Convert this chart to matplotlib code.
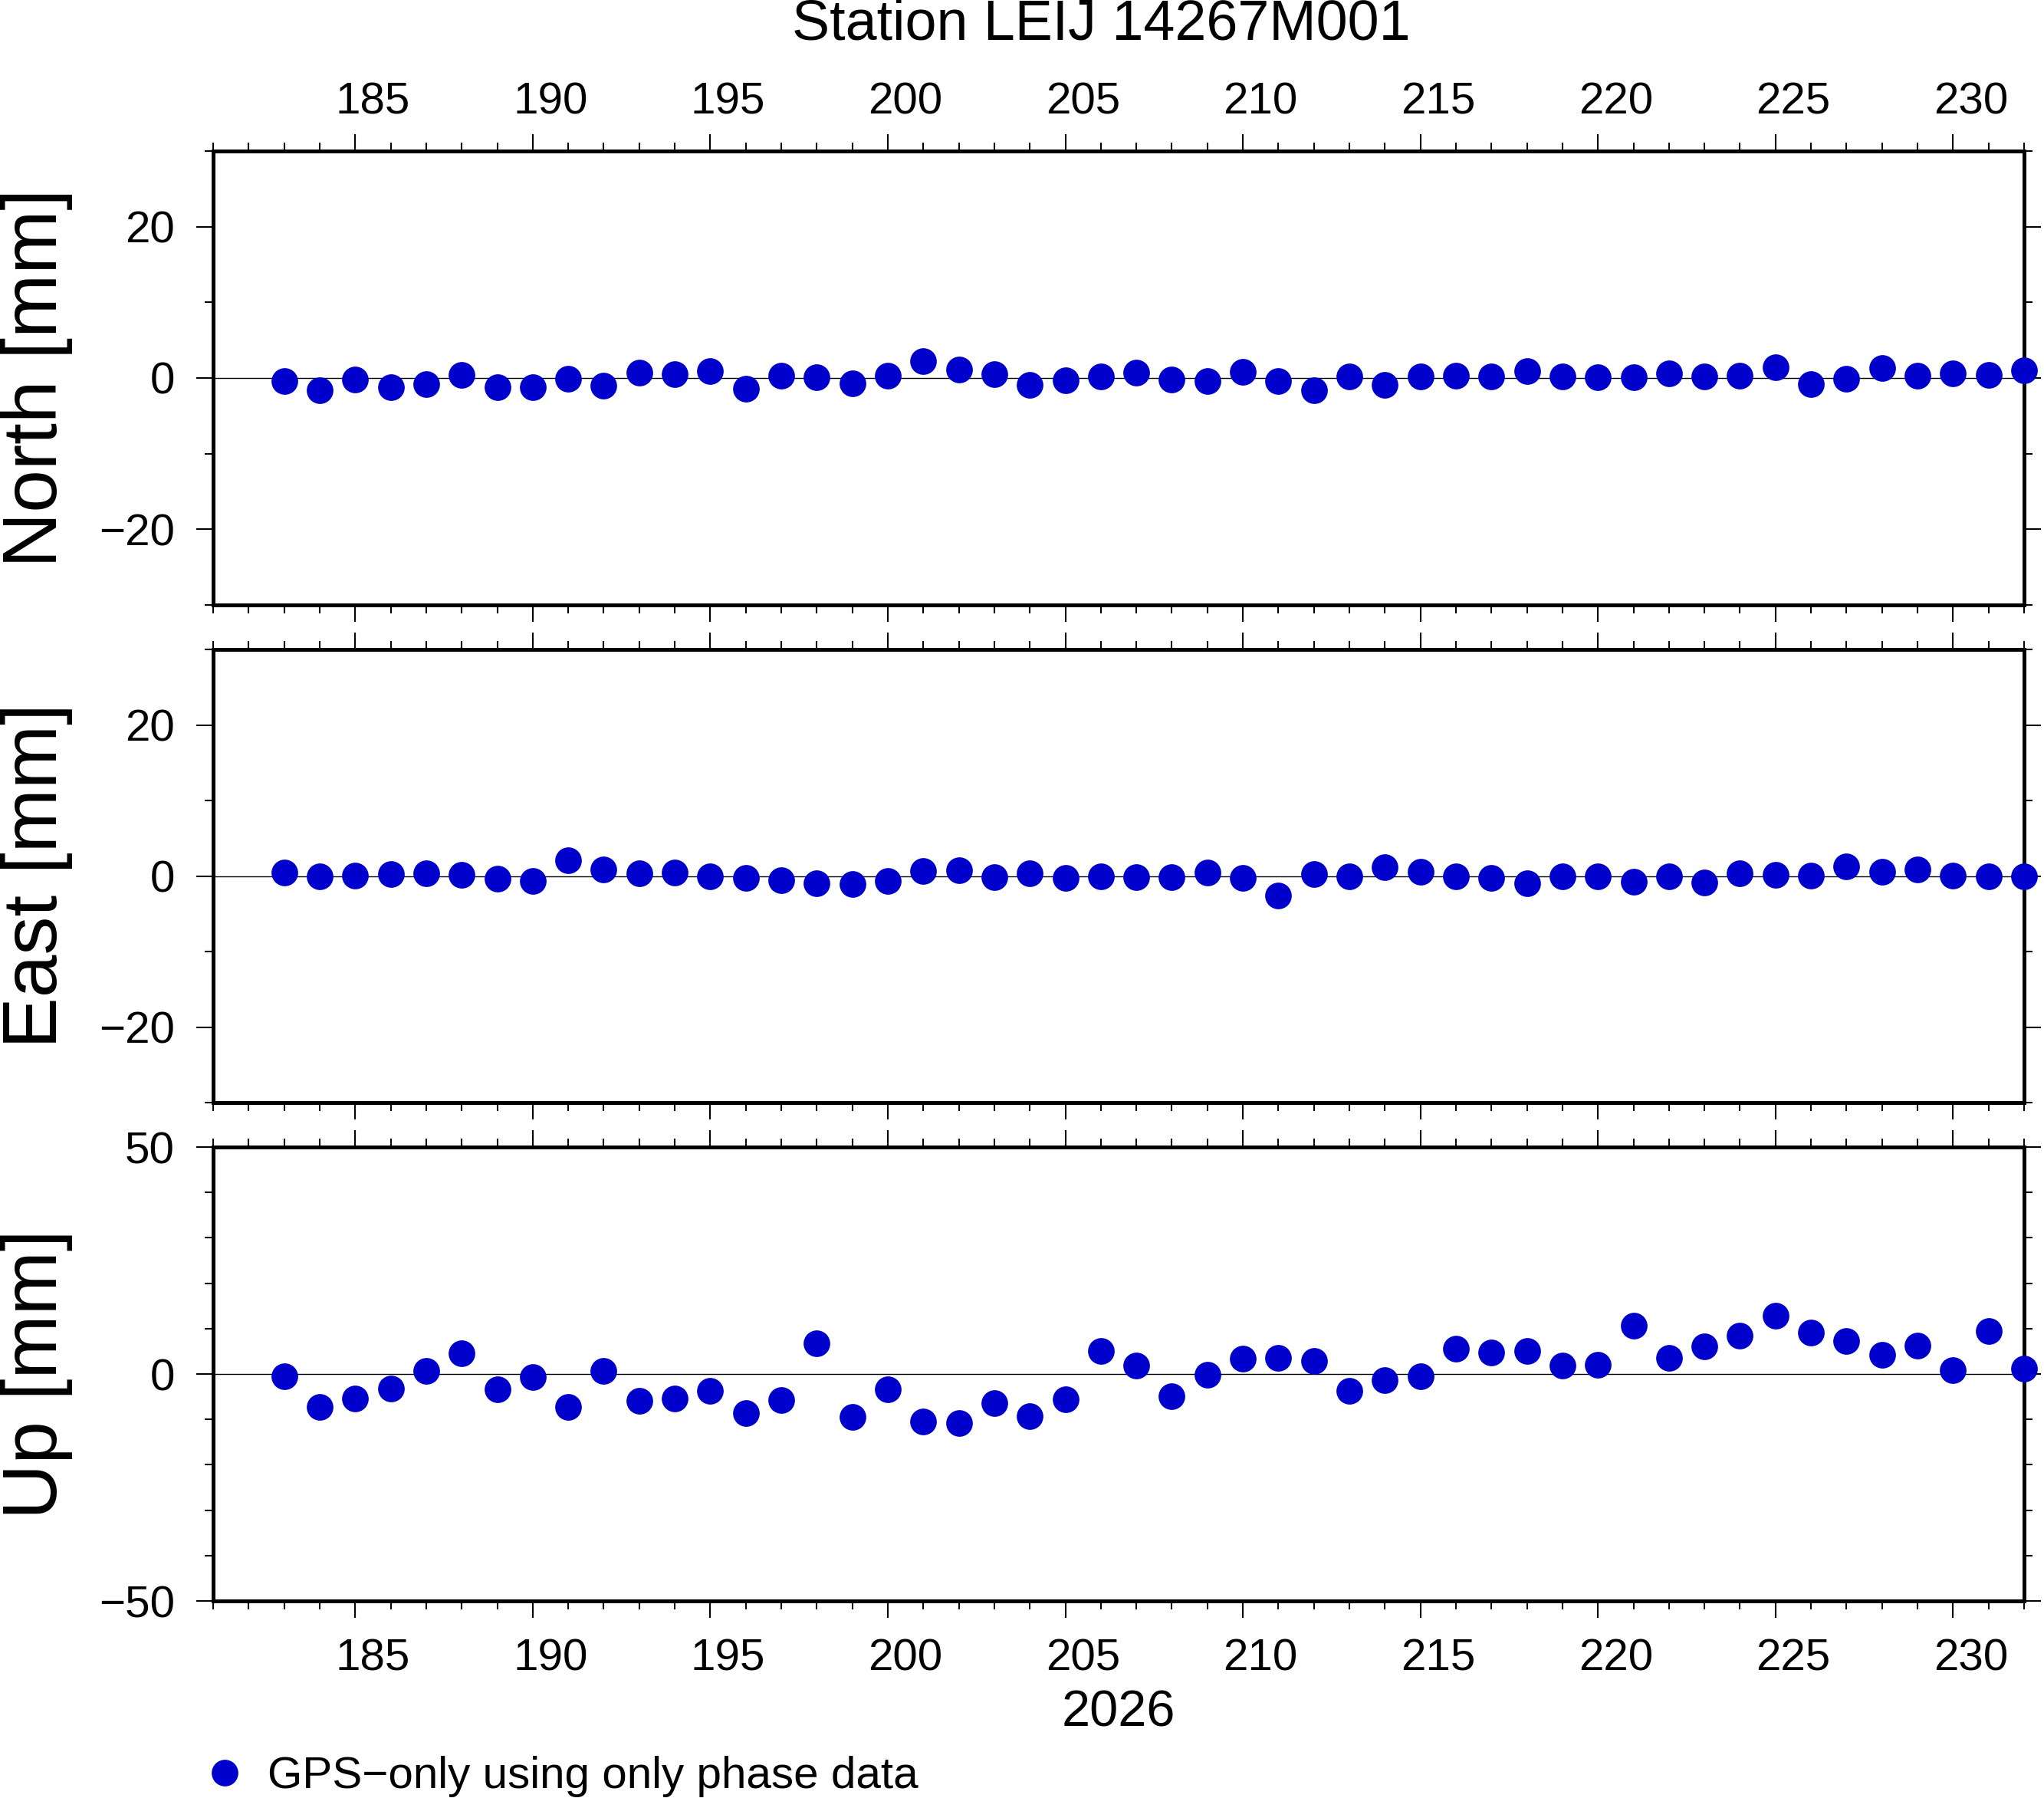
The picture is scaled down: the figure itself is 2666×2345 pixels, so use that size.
import numpy as np
import matplotlib
matplotlib.use("Agg")
import matplotlib.pyplot as plt
from matplotlib.ticker import MultipleLocator
from matplotlib.transforms import ScaledTranslation

plt.rcParams['font.family'] = ['Liberation Sans', 'DejaVu Sans']

# day of year 2026
days = np.arange(183, 233)

north = [-0.4, -1.6, -0.2, -1.2, -0.8, 0.4, -1.2, -1.2, -0.1, -1.0,
         0.7, 0.5, 0.9, -1.4, 0.3, 0.1, -0.7, 0.3, 2.2, 1.1,
         0.5, -0.9, -0.3, 0.2, 0.7, -0.2, -0.4, 0.8, -0.4, -1.6,
         0.2, -0.9, 0.2, 0.3, 0.2, 0.9, 0.2, 0.1, 0.1, 0.6,
         0.2, 0.3, 1.4, -0.8, -0.1, 1.3, 0.3, 0.6, 0.4, 1.0]

east = [0.5, -0.1, 0.1, 0.3, 0.4, 0.2, -0.4, -0.7, 2.1, 0.9,
        0.4, 0.5, 0.0, -0.3, -0.6, -1.0, -1.1, -0.7, 0.7, 0.8,
        -0.2, 0.4, -0.3, 0.0, -0.2, -0.2, 0.5, -0.3, -2.6, 0.3,
        0.0, 1.2, 0.6, -0.1, -0.3, -1.0, 0.0, -0.1, -0.8, 0.0,
        -0.9, 0.4, 0.2, 0.1, 1.3, 0.6, 0.9, 0.1, 0.0, -0.1]

up = [-0.5, -7.2, -5.4, -3.2, 0.6, 4.5, -3.4, -0.6, -7.2, 0.7,
      -5.9, -5.4, -3.7, -8.6, -5.7, 6.8, -9.4, -3.3, -10.5, -10.8,
      -6.4, -9.3, -5.5, 5.1, 1.9, -4.9, -0.1, 3.4, 3.6, 2.9,
      -3.8, -1.3, -0.5, 5.6, 4.7, 5.1, 1.8, 2.1, 10.6, 3.6,
      6.0, 8.4, 12.8, 9.2, 7.2, 4.3, 6.2, 0.9, 9.4, 1.2]

panels = [("North [mm]", north, 30, 20), ("East [mm]", east, 30, 20), ("Up [mm]", up, 50, 50)]

W, H = 2666, 2345
fig = plt.figure(figsize=(W / 100, H / 100), dpi=100)

def rect(left, top, right, bottom):
    return [left / W, 1 - bottom / H, (right - left) / W, (bottom - top) / H]

boxes = [(278, 197, 2640, 789), (278, 847, 2640, 1438), (278, 1496, 2640, 2088)]
dot_color = '#0000cc'
shift = ScaledTranslation(23 / 100, 0, fig.dpi_scale_trans)

axes = []
for (label, vals, lim, major), box in zip(panels, boxes):
    ax = fig.add_axes(rect(*box))
    ax.axhline(0, color='black', lw=1.0, zorder=1)
    line, = ax.plot(days, vals, 'o', ms=25, color=dot_color, mec='none',
                    clip_on=False, zorder=3, label='GPS\u2212only using only phase data')
    ax.set_xlim(181, 232)
    ax.set_ylim(-lim, lim)
    ax.xaxis.set_major_locator(MultipleLocator(5))
    ax.xaxis.set_minor_locator(MultipleLocator(1))
    ax.yaxis.set_major_locator(MultipleLocator(major))
    ax.yaxis.set_minor_locator(MultipleLocator(10))
    for s in ax.spines.values():
        s.set_linewidth(3.6)
    ax.tick_params(which='both', direction='out', top=True, bottom=True,
                   left=True, right=True, labelsize=42, width=1.5)
    ax.tick_params(which='major', length=16)
    ax.tick_params(which='minor', length=8)
    ax.tick_params(axis='y', which='major', pad=20)
    ax.tick_params(axis='x', labelbottom=False, labeltop=False)
    fig.text(48 / W, 1 - ((box[1] + box[3]) / 2) / H, label, rotation=90,
             ha='center', va='center', fontsize=72)
    axes.append(ax)

# top labels on North, bottom labels on Up, centred on the day
axes[0].tick_params(axis='x', which='major', labeltop=True, pad=10.5)
axes[2].tick_params(axis='x', which='major', labelbottom=True, pad=19)
for ax in (axes[0], axes[2]):
    for lab in ax.get_xticklabels():
        lab.set_transform(lab.get_transform() + shift)

fig.text(1436 / W, 1 - 52 / H, "Station LEIJ 14267M001", ha='center',
         va='baseline', fontsize=53)
fig.text(1459 / W, 1 - 2252 / H, "2026", ha='center', va='baseline', fontsize=48)

fig.legend(handles=[line], loc='center left', bbox_to_anchor=(264 / W, 1 - 2317 / H),
           frameon=False, fontsize=42, handlelength=1.0, handletextpad=0.45,
           borderpad=0, borderaxespad=0, numpoints=1)

fig.savefig("out.png", dpi=100)
